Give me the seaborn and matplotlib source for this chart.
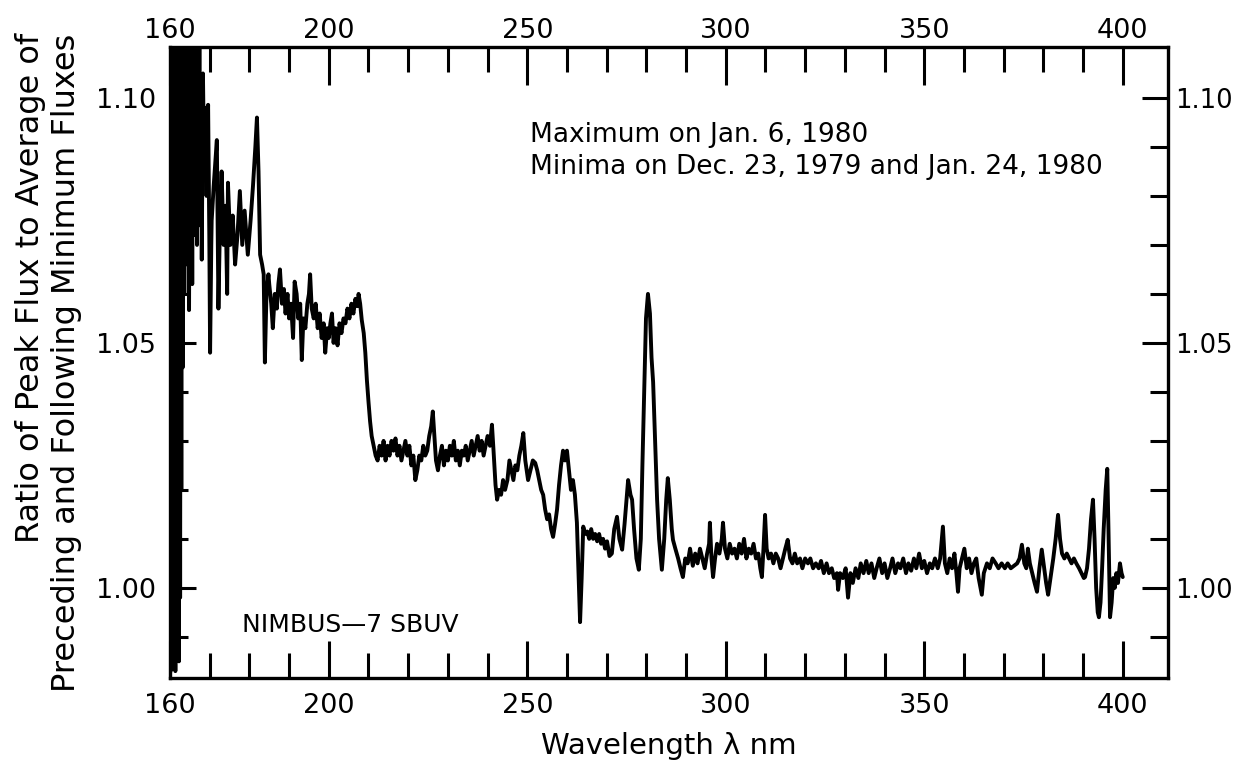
import numpy as np
import pandas as pd
import matplotlib
matplotlib.use("Agg")
import matplotlib.pyplot as plt
from matplotlib.ticker import FixedLocator
import seaborn as sns

# ---------------- data ----------------
wl_far = [160.0, 160.15, 160.3, 160.45, 160.6, 160.75, 160.9, 161.05, 161.2, 161.35,
          161.5, 161.65, 161.8, 161.95, 162.1, 162.25, 162.4, 162.55, 162.7, 162.85,
          163.0, 163.2, 163.4, 163.6, 163.8, 164.0, 164.2, 164.4, 164.6, 164.8,
          165.0, 165.2, 165.4, 165.6, 165.8, 166.0, 166.2, 166.4, 166.6, 166.8,
          167.0, 167.2, 167.4, 167.6, 167.8, 168.0, 168.3, 168.6, 168.9, 169.2,
          169.6, 169.9, 170.1, 170.4]
ratio_far = [1.112, 0.983, 1.110, 0.986, 1.112, 0.984, 1.108, 0.990, 1.112, 0.983,
             1.105, 0.988, 1.110, 0.992, 1.112, 0.985, 1.108, 0.998, 1.112, 1.020,
             1.110, 1.045, 1.112, 1.060, 1.108, 1.077, 1.112, 1.066, 1.105, 1.0567,
             1.110, 1.070, 1.108, 1.062, 1.112, 1.075, 1.106, 1.072, 1.112, 1.070,
             1.104, 1.078, 1.110, 1.074, 1.100, 1.067, 1.105, 1.085, 1.098, 1.080,
             1.0986, 1.072, 1.048, 1.070]

wl_uv1 = [170.5, 171.0, 171.8, 172.2, 172.6, 173.0, 173.5, 174.0, 174.4, 174.6,
          175.2, 175.8, 176.4, 177.0, 177.6, 178.2, 178.8, 179.6, 180.3, 180.9,
          181.5, 181.9, 182.3, 182.7, 183.2, 183.6, 183.9, 184.3, 184.8, 185.0,
          185.5, 185.9, 186.4, 186.9, 187.3, 187.7, 188.2, 188.7, 189.1, 189.6,
          190.0, 190.5, 191.0, 191.4, 191.9, 192.3, 192.8, 193.2, 193.6, 194.1,
          194.6, 195.0, 195.3, 195.7, 196.2, 196.7, 197.2, 197.7, 198.2, 198.7,
          199.1, 199.6, 200.0, 200.4, 200.8, 201.2, 201.7, 202.2, 202.7, 203.2,
          203.7, 204.2, 204.7, 205.2, 205.7, 206.2, 206.7, 207.2, 207.5, 207.9,
          208.3, 208.8, 209.2, 209.6, 210.0, 210.4, 210.8, 211.3, 211.8]
ratio_uv1 = [1.075, 1.082, 1.0914, 1.057, 1.075, 1.085, 1.070, 1.078, 1.060, 1.0827,
             1.070, 1.076, 1.066, 1.072, 1.081, 1.070, 1.077, 1.068, 1.075, 1.082,
             1.090, 1.096, 1.085, 1.068, 1.066, 1.064, 1.046, 1.060, 1.064, 1.062,
             1.058, 1.053, 1.060, 1.057, 1.062, 1.065, 1.058, 1.061, 1.056, 1.060,
             1.055, 1.058, 1.051, 1.0625, 1.060, 1.055, 1.058, 1.0465, 1.055, 1.053,
             1.058, 1.060, 1.064, 1.057, 1.055, 1.058, 1.053, 1.056, 1.051, 1.054,
             1.048, 1.053, 1.051, 1.054, 1.056, 1.050, 1.053, 1.0495, 1.054, 1.052,
             1.055, 1.054, 1.057, 1.055, 1.058, 1.056, 1.059, 1.0575, 1.060, 1.058,
             1.0547, 1.052, 1.048, 1.0424, 1.038, 1.034, 1.031, 1.029, 1.027]

wl_uv2 = [212.3, 212.8, 213.3, 213.8, 214.3, 214.8, 215.3, 215.8, 216.3, 216.8,
          217.3, 217.8, 218.3, 218.8, 219.3, 219.8, 220.3, 220.8, 221.3, 221.8,
          222.3, 222.8, 223.3, 223.8, 224.3, 224.8, 225.3, 225.8, 226.2, 226.6,
          227.0, 227.5, 228.0, 228.5, 229.0, 229.5, 230.0, 230.5, 231.0, 231.5,
          232.0, 232.5, 233.0, 233.5, 234.0, 234.5, 235.0, 235.5, 236.0, 236.5,
          237.0, 237.5, 238.0, 238.5, 239.0, 239.5, 240.0, 240.6, 241.1, 241.5,
          242.0, 242.4, 242.9, 243.4, 243.9, 244.4, 245.0, 245.5, 246.0, 246.5,
          247.0, 247.5, 248.0, 248.5, 249.0, 249.5, 250.2, 250.8, 251.4, 252.0,
          252.5, 253.0, 253.5, 254.0, 254.5, 255.0, 255.5, 256.0, 256.5, 257.0,
          257.5, 258.0, 258.5, 259.0, 259.5, 260.0, 260.5, 261.0, 261.5, 262.0,
          262.5, 262.9, 263.3, 263.7]
ratio_uv2 = [1.026, 1.029, 1.027, 1.030, 1.026, 1.029, 1.027, 1.030, 1.028, 1.0305,
             1.027, 1.029, 1.026, 1.028, 1.030, 1.027, 1.029, 1.025, 1.027, 1.022,
             1.024, 1.027, 1.026, 1.029, 1.027, 1.028, 1.031, 1.033, 1.036, 1.031,
             1.026, 1.024, 1.027, 1.029, 1.025, 1.028, 1.026, 1.029, 1.027, 1.030,
             1.026, 1.028, 1.025, 1.028, 1.027, 1.029, 1.026, 1.028, 1.030, 1.027,
             1.029, 1.031, 1.028, 1.030, 1.027, 1.029, 1.031, 1.029, 1.0333, 1.028,
             1.021, 1.018, 1.020, 1.019, 1.022, 1.020, 1.022, 1.026, 1.024, 1.022,
             1.025, 1.024, 1.027, 1.029, 1.0316, 1.026, 1.022, 1.024, 1.026, 1.0255,
             1.024, 1.022, 1.020, 1.019, 1.016, 1.014, 1.015, 1.012, 1.0104, 1.013,
             1.016, 1.021, 1.025, 1.028, 1.026, 1.028, 1.024, 1.020, 1.022, 1.019,
             1.0133, 1.003, 0.993, 1.002]

wl_mid = [264.1, 264.6, 265.1, 265.6, 266.1, 266.6, 267.1, 267.6, 268.1, 268.6,
          269.1, 269.6, 270.1, 270.7, 271.3, 271.9, 272.6, 273.2, 273.9, 274.5,
          275.0, 275.4, 276.0, 276.4, 276.9, 277.5, 278.1, 278.6, 279.0, 279.5,
          279.9, 280.4, 280.9, 281.3, 281.7, 282.2, 282.7, 283.2, 283.9, 284.5,
          285.0, 285.4, 285.9, 286.4, 286.7, 287.3, 288.0, 288.6, 289.2, 289.8,
          290.4, 291.0, 291.7, 292.3, 292.9, 293.5, 294.1, 294.7, 295.3, 295.8,
          296.0, 296.4, 296.8, 297.3, 297.8, 298.4, 299.0, 299.3, 299.8, 300.4,
          301.0, 301.6, 302.2, 302.8, 303.4, 304.0, 304.6, 305.2, 305.8, 306.4,
          307.0, 307.6, 308.2, 308.7, 309.1, 309.5, 309.9, 310.3, 310.8, 311.4,
          312.0, 312.6, 313.2, 313.8, 314.4, 315.0, 315.6, 316.2, 316.8, 317.4,
          318.0, 318.7, 319.3, 320.0, 320.7, 321.3, 322.0, 322.7, 323.4, 324.0,
          324.7, 325.4, 326.0, 326.7, 327.3, 328.0, 328.3, 328.8, 329.5]
ratio_mid = [1.0125, 1.011, 1.0115, 1.010, 1.012, 1.010, 1.011, 1.0095, 1.011, 1.009,
             1.010, 1.008, 1.0095, 1.0065, 1.007, 1.012, 1.0145, 1.010, 1.0078, 1.013,
             1.018, 1.022, 1.019, 1.018, 1.012, 1.006, 1.0037, 1.010, 1.025, 1.042,
             1.055, 1.060, 1.056, 1.047, 1.042, 1.030, 1.018, 1.010, 1.0037, 1.010,
             1.018, 1.0224, 1.018, 1.012, 1.0098, 1.008, 1.006, 1.004, 1.0022, 1.006,
             1.005, 1.008, 1.0045, 1.007, 1.005, 1.008, 1.006, 1.004, 1.007, 1.009,
             1.0133, 1.006, 1.0022, 1.006, 1.009, 1.007, 1.010, 1.0133, 1.008, 1.006,
             1.009, 1.007, 1.008, 1.006, 1.009, 1.007, 1.010, 1.006, 1.008, 1.007,
             1.009, 1.006, 1.007, 1.004, 1.0022, 1.008, 1.0149, 1.008, 1.006, 1.007,
             1.005, 1.007, 1.006, 1.004, 1.006, 1.008, 1.0098, 1.006, 1.005, 1.007,
             1.005, 1.006, 1.004, 1.006, 1.005, 1.006, 1.004, 1.005, 1.004, 1.0055,
             1.003, 1.005, 1.003, 1.004, 1.002, 1.003, 0.9996, 1.003, 1.002]

wl_near = [330.2, 330.8, 331.4, 332.0, 332.7, 333.4, 334.0, 334.7, 335.4, 336.0,
           336.7, 337.4, 338.0, 338.7, 339.4, 340.0, 340.7, 341.4, 342.0, 342.7,
           343.4, 344.0, 344.7, 345.4, 346.0, 346.7, 347.4, 348.0, 348.7, 349.4,
           350.0, 350.7, 351.4, 352.0, 352.7, 353.4, 354.0, 354.7, 355.2, 355.8,
           356.4, 357.0, 357.6, 358.1, 358.5, 358.9, 359.5, 360.1, 360.7, 361.3,
           361.9, 362.5, 363.1, 363.7, 364.5, 365.0, 365.8, 366.5, 367.2, 368.0,
           368.7, 369.5, 370.3, 371.0, 371.8, 372.6, 373.4, 374.0, 374.6, 375.2,
           375.7, 376.1, 376.6, 377.2, 377.8, 378.4, 379.0, 379.6, 380.2, 380.7,
           381.2, 381.8, 382.5, 383.1, 383.7, 384.2, 384.7, 385.3, 385.9, 386.5,
           387.1, 387.7, 388.3, 389.0, 389.6, 390.2, 390.5, 391.0, 391.5, 392.0,
           392.5, 392.9, 393.3, 393.7, 394.0, 394.4, 394.8, 395.2, 395.7, 396.1,
           396.4, 396.8, 397.2, 397.6, 398.0, 398.4, 398.8, 399.3, 399.7, 400.0]
ratio_near = [1.004, 0.998, 1.003, 1.001, 1.004, 1.002, 1.005, 1.003, 1.0055, 1.003,
              1.005, 1.002, 1.004, 1.006, 1.003, 1.005, 1.002, 1.004, 1.006, 1.003,
              1.005, 1.004, 1.006, 1.003, 1.005, 1.0035, 1.006, 1.004, 1.007, 1.004,
              1.0055, 1.003, 1.005, 1.004, 1.006, 1.004, 1.006, 1.0125, 1.005, 1.003,
              1.006, 1.004, 1.007, 1.003, 0.9992, 1.004, 1.006, 1.008, 1.004, 1.006,
              1.003, 1.005, 1.006, 1.002, 0.9986, 1.003, 1.005, 1.004, 1.006, 1.005,
              1.004, 1.005, 1.004, 1.005, 1.004, 1.0045, 1.005, 1.006, 1.0088, 1.005,
              1.004, 1.008, 1.005, 1.003, 1.001, 0.9992, 1.004, 1.0078, 1.004, 1.001,
              0.9986, 1.002, 1.006, 1.010, 1.0149, 1.010, 1.007, 1.006, 1.007, 1.006,
              1.005, 1.006, 1.005, 1.004, 1.003, 1.002, 1.0022, 1.004, 1.008, 1.014,
              1.018, 1.010, 1.000, 0.995, 0.994, 0.997, 1.004, 1.012, 1.020, 1.0243,
              1.012, 0.994, 0.997, 1.002, 1.000, 1.003, 1.001, 1.005, 1.003, 1.0022]

x_major = [160, 200, 250, 300, 350, 400]
x_major_labels = ["160", "200", "250", "300", "350", "400"]
x_minor = [170, 180, 190, 210, 220, 230, 240, 260, 270, 280, 290,
           310, 320, 330, 340, 360, 370, 380, 390]
y_major = [1.00, 1.05, 1.10]
y_major_labels = ["1.00", "1.05", "1.10"]
y_minor = [0.99, 1.01, 1.02, 1.03, 1.04, 1.06, 1.07, 1.08, 1.09]

title_lines = ["Maximum on Jan. 6, 1980",
               "Minima on Dec. 23, 1979 and Jan. 24, 1980"]
instrument = "NIMBUS\u20147 SBUV"
x_title = "Wavelength \u03bb nm"
y_title = "Ratio of Peak Flux to Average of\nPreceding and Following Minimum Fluxes"

# ---------------- figure ----------------
sns.set_theme(style="ticks")
plt.rcParams["font.family"] = ["DejaVu Sans"]
plt.rcParams["axes.linewidth"] = 2.4
plt.rcParams["text.color"] = "black"
plt.rcParams["axes.labelcolor"] = "black"
plt.rcParams["xtick.color"] = "black"
plt.rcParams["ytick.color"] = "black"

df = pd.DataFrame({
    "wavelength": wl_far + wl_uv1 + wl_uv2 + wl_mid + wl_near,
    "ratio": ratio_far + ratio_uv1 + ratio_uv2 + ratio_mid + ratio_near,
})

fig = plt.figure(figsize=(12.38, 7.76), dpi=100)
ax = fig.add_axes([170 / 1238, 1 - 678 / 776, (1168 - 170) / 1238, (678 - 47) / 776])

sns.lineplot(data=df, x="wavelength", y="ratio", ax=ax, color="black",
             linewidth=2.8, estimator=None, sort=False)

ax.set_xlim(160, 411.4)
ax.set_ylim(0.9816, 1.1104)

for s in ax.spines.values():
    s.set_linewidth(2.4)
    s.set_color("black")

ax.xaxis.set_major_locator(FixedLocator(x_major))
ax.xaxis.set_minor_locator(FixedLocator(x_minor))
ax.set_xticklabels(x_major_labels)
ax.yaxis.set_major_locator(FixedLocator(y_major))
ax.yaxis.set_minor_locator(FixedLocator(y_minor))
ax.set_yticklabels(y_major_labels)

ax.tick_params(axis="x", which="major", direction="in", length=27, width=2.2,
               top=True, bottom=True, labelsize=19.5, pad=11, colors="black")
ax.tick_params(axis="x", which="minor", direction="in", length=18, width=2.2,
               top=True, bottom=True, colors="black")
ax.tick_params(axis="y", which="major", direction="in", length=19, width=2.2,
               left=True, right=True, labelleft=True, labelright=False,
               labelsize=19.5, pad=10, colors="black")
ax.tick_params(axis="y", which="minor", direction="in", length=13, width=2.2,
               left=True, right=True, colors="black")

# top axis labels
secx = ax.secondary_xaxis("top")
secx.xaxis.set_major_locator(FixedLocator(x_major))
secx.set_xticklabels(x_major_labels)
secx.tick_params(axis="x", which="major", length=0, labelsize=19.5, pad=2,
                 colors="black")
secx.spines["top"].set_visible(False)

# right axis labels
secy = ax.secondary_yaxis("right")
secy.yaxis.set_major_locator(FixedLocator(y_major))
secy.set_yticklabels(y_major_labels)
secy.tick_params(axis="y", which="major", length=0, labelsize=18.5, pad=5,
                 colors="black")
secy.spines["right"].set_visible(False)

ax.set_xlabel(x_title, fontsize=21, labelpad=9, color="black")
ax.set_ylabel(y_title, fontsize=23, labelpad=10, color="black",
              multialignment="right", linespacing=1.2)

ax.text(250.7, 1.0924, title_lines[0], fontsize=19, ha="left", va="center",
        color="black")
ax.text(250.7, 1.0859, title_lines[1], fontsize=19, ha="left", va="center",
        color="black")
ax.text(178.1, 0.9924, instrument, fontsize=18, ha="left", va="center",
        color="black")

fig.savefig("out.png", dpi=100, facecolor="white")
